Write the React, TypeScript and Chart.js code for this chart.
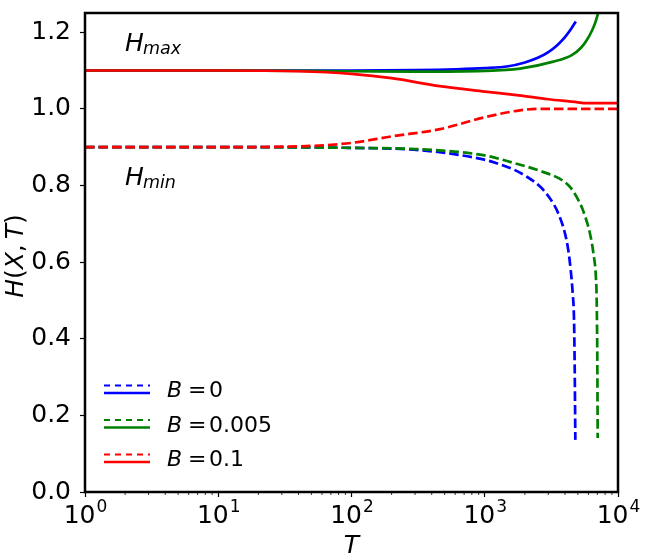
import React, { useEffect, useRef } from 'react';
import { Chart, registerables } from 'chart.js';

Chart.register(...registerables);

// H_max / H_min against T, one pair of curves per B
const tMaxB0 = [1, 10, 100, 300, 600, 1000, 1500, 2000, 2500, 3000, 3500, 4000, 4400, 4820];
const hMaxB0 = [1.1, 1.1, 1.1, 1.101, 1.103, 1.106, 1.111, 1.121, 1.133, 1.148, 1.166, 1.187, 1.206, 1.228];
const tMinB0 = [1, 10, 100, 327, 975, 1230, 1637, 2065, 2600, 3090, 3565, 4000, 4236, 4418, 4571, 4677, 4730, 4785];
const hMinB0 = [0.9, 0.9, 0.898, 0.892, 0.868, 0.858, 0.842, 0.823, 0.797, 0.766, 0.727, 0.675, 0.631, 0.579, 0.518, 0.45, 0.33, 0.136];

const tMaxB005 = [1, 10, 100, 300, 1000, 1837, 3272, 4500, 5300, 5820, 6400, 6800, 7080, 7300];
const hMaxB005 = [1.1, 1.1, 1.098, 1.097, 1.099, 1.105, 1.123, 1.14, 1.16, 1.179, 1.205, 1.228, 1.25, 1.28];
const tMinB005 = [1, 10, 100, 300, 975, 1637, 2600, 3670, 4363, 5124, 5490, 6165, 6525, 6838, 6920, 6993, 7041];
const hMinB005 = [0.9, 0.9, 0.898, 0.895, 0.879, 0.859, 0.838, 0.817, 0.796, 0.757, 0.733, 0.674, 0.625, 0.555, 0.5, 0.35, 0.141];

const tMaxB01 = [1, 10, 40, 100, 200, 460, 1000, 1800, 3000, 5000, 5500, 10000];
const hMaxB01 = [1.1, 1.1, 1.098, 1.091, 1.08, 1.059, 1.045, 1.035, 1.025, 1.017, 1.015, 1.015];
const tMinB01 = [1, 10, 40, 100, 200, 462, 1000, 1837, 2600, 10000];
const hMinB01 = [0.9, 0.9, 0.902, 0.911, 0.928, 0.947, 0.978, 0.996, 1.0, 1.0];

const bLabels = ['0', '0.005', '0.1'];
const bColors = ['#0000ff', '#008000', '#ff0000'];

const xDecades = [1, 10, 100, 1000, 10000];
const xExponents = ['0', '1', '2', '3', '4'];
const yTicks = [0, 0.2, 0.4, 0.6, 0.8, 1.0, 1.2];

const noteT = [2, 2];
const noteH = [1.15, 0.8];
const noteSub = ['max', 'min'];

const FONT = '"DejaVu Sans", sans-serif';

const pts = (t: number[], h: number[]) => t.map((x, i) => ({ x, y: h[i] }));

function line(t: number[], h: number[], color: string, dashed: boolean, order: number) {
  return {
    data: pts(t, h),
    borderColor: color,
    borderWidth: 2.7,
    borderDash: dashed ? [9.5, 4] : [],
    pointRadius: 0,
    fill: false,
    cubicInterpolationMode: 'monotone' as const,
    order,
  };
}

const overlay = {
  id: 'overlay',
  afterDraw(chart: any) {
    const { ctx, chartArea: a } = chart;
    const x = chart.scales.x;
    const y = chart.scales.y;
    ctx.save();

    // minor ticks on the log axis
    ctx.strokeStyle = '#000';
    ctx.lineWidth = 0.8;
    for (const d of xDecades.slice(0, -1)) {
      for (let k = 2; k < 10; k++) {
        const px = x.getPixelForValue(k * d);
        ctx.beginPath();
        ctx.moveTo(px, a.bottom);
        ctx.lineTo(px, a.bottom + 3);
        ctx.stroke();
      }
    }

    // frame
    ctx.lineWidth = 2.5;
    ctx.strokeRect(a.left, a.top, a.right - a.left, a.bottom - a.top);

    ctx.fillStyle = '#000';
    ctx.textBaseline = 'alphabetic';
    ctx.textAlign = 'left';

    // x tick labels 10^n
    xDecades.forEach((v, i) => {
      const px = x.getPixelForValue(v);
      ctx.font = `25px ${FONT}`;
      const w1 = ctx.measureText('10').width;
      ctx.font = `17px ${FONT}`;
      const w2 = ctx.measureText(xExponents[i]).width;
      const x0 = px - (w1 + w2) / 2;
      ctx.font = `25px ${FONT}`;
      ctx.fillText('10', x0, a.bottom + 30.5);
      ctx.font = `17px ${FONT}`;
      ctx.fillText(xExponents[i], x0 + w1 + 1, a.bottom + 19.5);
    });

    // axis titles
    ctx.font = `italic 25px ${FONT}`;
    ctx.textAlign = 'center';
    ctx.fillText('T', (a.left + a.right) / 2, 552.5);

    ctx.save();
    ctx.translate(23, 256);
    ctx.rotate(-Math.PI / 2);
    const parts: [string, boolean][] = [['H', true], ['(', false], ['X', true], [',', false], ['\u2009', false], ['T', true], [')', false]];
    const widths = parts.map(([s, it]) => {
      ctx.font = `${it ? 'italic ' : ''}25px ${FONT}`;
      return ctx.measureText(s).width;
    });
    let cx = -widths.reduce((s, w) => s + w, 0) / 2;
    ctx.textAlign = 'left';
    parts.forEach(([s, it], i) => {
      ctx.font = `${it ? 'italic ' : ''}25px ${FONT}`;
      ctx.fillText(s, cx, 0);
      cx += widths[i];
    });
    ctx.restore();

    // H_max / H_min notes
    ctx.textAlign = 'left';
    noteT.forEach((t, i) => {
      const px = x.getPixelForValue(t);
      const py = y.getPixelForValue(noteH[i]);
      ctx.font = `italic 25px ${FONT}`;
      ctx.fillText('H', px, py);
      const w = ctx.measureText('H').width;
      ctx.font = `italic 17.5px ${FONT}`;
      ctx.fillText(noteSub[i], px + w - 1, py + 3);
    });

    // legend: dashed (min) over solid (max) for each B
    const rowBase = [397, 431.5, 466];
    bLabels.forEach((lab, i) => {
      const mid = rowBase[i] - 7.5;
      ctx.strokeStyle = bColors[i];
      ctx.lineWidth = 2.2;
      ctx.setLineDash([6, 5]);
      ctx.beginPath();
      ctx.moveTo(104, mid - 4);
      ctx.lineTo(150, mid - 4);
      ctx.stroke();
      ctx.setLineDash([]);
      ctx.lineWidth = 2.5;
      ctx.beginPath();
      ctx.moveTo(104, mid + 3.5);
      ctx.lineTo(150, mid + 3.5);
      ctx.stroke();

      ctx.font = `italic 22px ${FONT}`;
      ctx.fillText('B', 167, rowBase[i]);
      ctx.font = `22px ${FONT}`;
      ctx.fillText('=', 188, rowBase[i]);
      ctx.fillText(lab, 209, rowBase[i]);
    });

    ctx.restore();
  },
};

export default function App() {
  const canvasRef = useRef<HTMLCanvasElement>(null);
  const chartRef = useRef<Chart | null>(null);

  useEffect(() => {
    document.body.style.margin = '0';
    const el = canvasRef.current;
    if (!el) return;

    chartRef.current = new Chart(el, {
      type: 'line',
      data: {
        datasets: [
          line(tMinB0, hMinB0, bColors[0], true, 2),
          line(tMaxB0, hMaxB0, bColors[0], false, 2),
          line(tMinB005, hMinB005, bColors[1], true, 1),
          line(tMaxB005, hMaxB005, bColors[1], false, 1),
          line(tMinB01, hMinB01, bColors[2], true, 0),
          line(tMaxB01, hMaxB01, bColors[2], false, 0),
        ] as any,
      },
      options: {
        responsive: false,
        animation: false,
        devicePixelRatio: 1,
        layout: { padding: { left: 0, right: 32, top: 13, bottom: 0 } },
        plugins: { legend: { display: false }, tooltip: { enabled: false } },
        scales: {
          x: {
            type: 'logarithmic',
            min: 1,
            max: 10000,
            afterBuildTicks: (s: any) => {
              s.ticks = xDecades.map((v) => ({ value: v }));
            },
            afterFit: (s: any) => {
              s.height = 68;
              s.paddingLeft = 0;
              s.paddingRight = 0;
            },
            ticks: { display: false },
            grid: { drawOnChartArea: false, drawTicks: true, tickLength: 5, tickColor: '#000', tickWidth: 1.2 },
            border: { display: false },
          },
          y: {
            type: 'linear',
            min: 0,
            max: 1.25,
            afterBuildTicks: (s: any) => {
              s.ticks = yTicks.map((v) => ({ value: v }));
            },
            afterFit: (s: any) => {
              s.width = 85;
              s.paddingTop = 0;
              s.paddingBottom = 0;
            },
            ticks: {
              callback: (v: any) => Number(v).toFixed(1),
              color: '#000',
              font: { size: 25, family: FONT },
              padding: 9,
            },
            grid: { drawOnChartArea: false, drawTicks: true, tickLength: 5, tickColor: '#000', tickWidth: 1.2 },
            border: { display: false },
          },
        },
      },
      plugins: [overlay],
    });

    return () => {
      chartRef.current?.destroy();
      chartRef.current = null;
    };
  }, []);

  return (
    <div style={{ width: '650px', height: '560px', position: 'relative' }}>
      <canvas ref={canvasRef} width={650} height={560} />
    </div>
  );
}
